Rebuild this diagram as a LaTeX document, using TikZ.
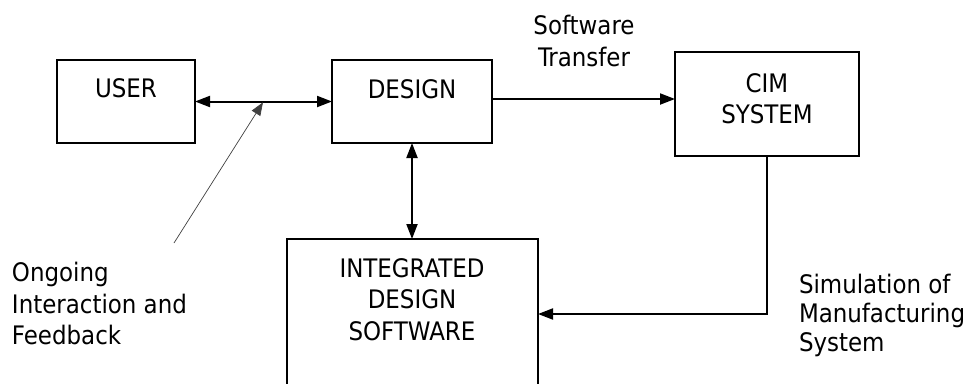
\documentclass[tikz,border=0pt]{standalone}
\usepackage{fontspec}
\setmainfont{DejaVu Sans Condensed}
\usetikzlibrary{arrows.meta,calc}
\begin{document}
\begin{tikzpicture}[x=1pt,y=-1pt,
  every node/.style={inner sep=0pt, outer sep=0pt},
  lbl/.style={font=\fontsize{25.5}{31.5}\selectfont},
  blk/.style={draw, line width=2pt, rectangle},
  conn/.style={line width=2pt},
  tip/.tip={Triangle[length=15pt,width=11pt]},
  note/.style={line width=0.7pt, draw=black!75, -{Triangle[length=13pt,width=10pt]}}
]
\clip (0,0) rectangle (969,383);

% blocks
\node[blk, minimum width=138pt, minimum height=83pt] (user) at (126,101.5) {};
\node[blk, minimum width=160pt, minimum height=83pt] (design) at (412,101.5) {};
\node[blk, minimum width=184pt, minimum height=104pt] (cim) at (767,104) {};
\node[blk, minimum width=251pt, minimum height=150pt] (ids) at (412.5,314) {};

% block captions
\node[lbl, anchor=base] (usertxt) at (126,97) {USER};
\node[lbl, anchor=base] (designtxt) at (412,98) {DESIGN};
\node[lbl, anchor=north, align=center] (cimtxt) at (767,73.2) {CIM\\SYSTEM};
\node[lbl, anchor=north, align=center] (idstxt) at (412,258.4) {INTEGRATED\\DESIGN\\SOFTWARE};

% connector labels
\node[lbl, anchor=north, align=center] (xfer) at (584,15.6) {Software\\Transfer};
\node[lbl, anchor=north west, align=left, font=\fontsize{25.5}{28.8}\selectfont] (sim) at (799,274.6) {Simulation of\\Manufacturing\\System};
\node[lbl, anchor=north west, align=left] (ongoing) at (12,262.5) {Ongoing\\Interaction and\\Feedback};

% connectors
\draw[conn, tip-tip] (user.east) -- (design.west);
\draw[conn, -tip] ([yshift=2.5pt]design.east) -- ([yshift=2.5pt]design.east -| cim.west);
\draw[conn, tip-tip] (design.south) -- (design.south |- ids.north);
\draw[conn, -tip] (cim.south) |- (ids.east);

% pointer from the feedback note to the user/design link
\coordinate (notefoot) at (174,243);
\coordinate (linkmid) at ($(user.east)!0.5!(design.west)$);
\draw[note, shorten >=1pt] (notefoot) -- (linkmid);
\end{tikzpicture}
\end{document}
